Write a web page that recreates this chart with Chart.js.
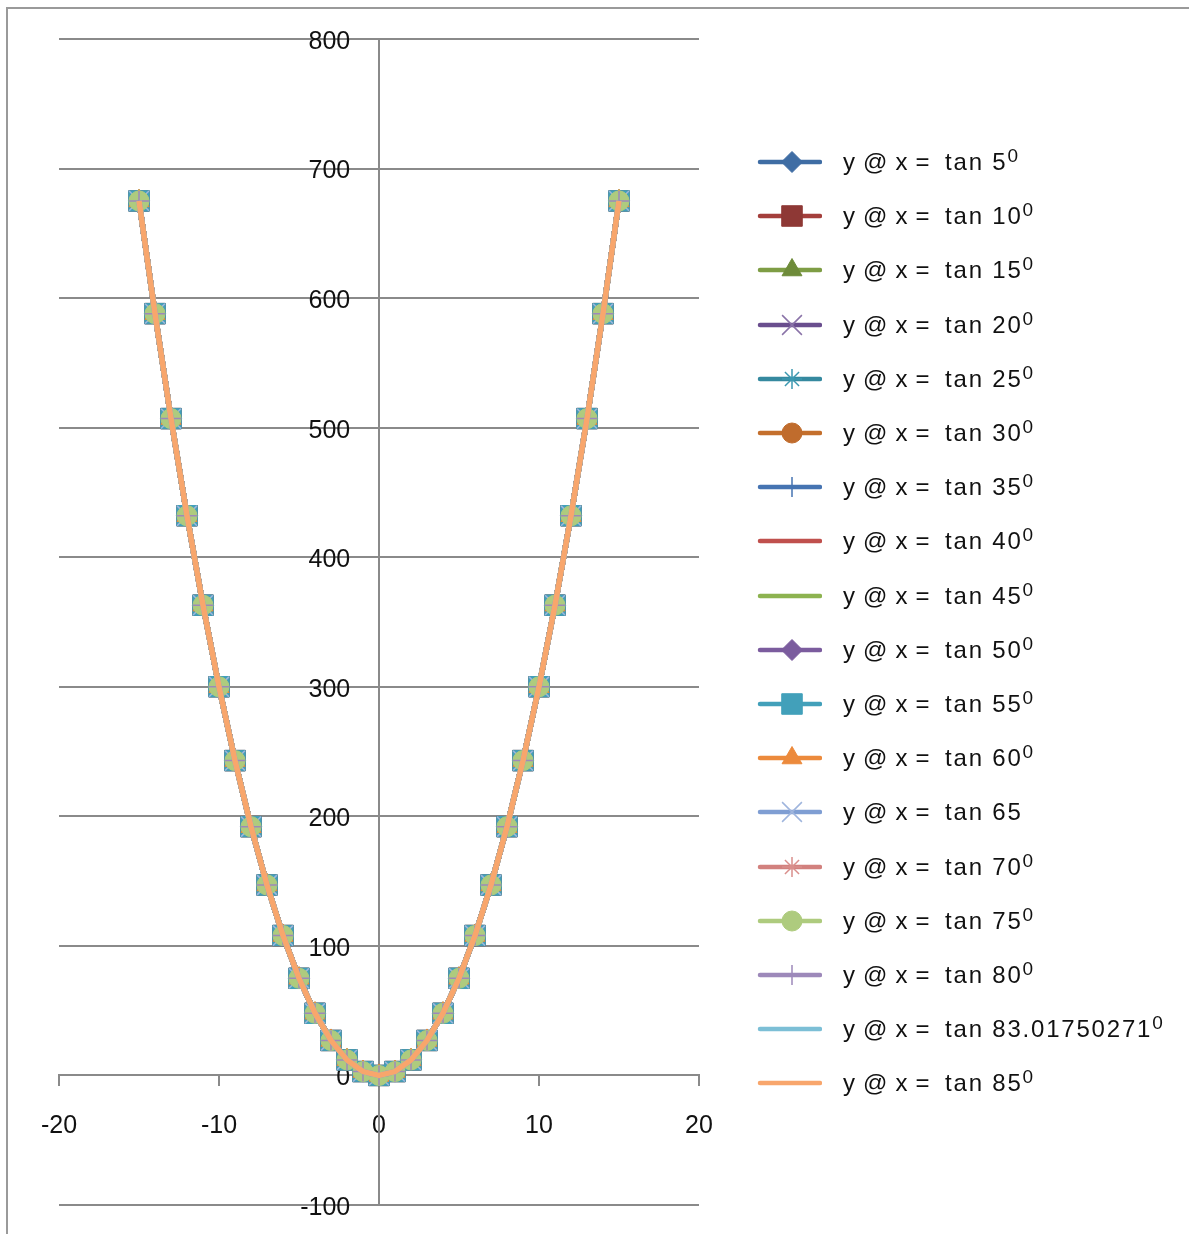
<!DOCTYPE html>
<html>
<head>
<meta charset="utf-8">
<script src="https://cdn.jsdelivr.net/npm/chart.js@4.4.1/dist/chart.umd.min.js"></script>
<style>
html, body { margin: 0; padding: 0; background: #fff; }
body { width: 1189px; height: 1234px; position: relative; overflow: hidden; font-family: "Liberation Sans", Arial, sans-serif; }
#frame { position: absolute; left: 6px; top: 7px; width: 1300px; height: 1300px; border-left: 2px solid #9a9a9a; border-top: 2px solid #9a9a9a; }
#chart { position: absolute; left: 0; top: 0; }
#legend { position: absolute; left: 756px; top: 135px; }
.item { height: 54.2px; display: flex; align-items: center; white-space: pre; color: #111; font-size: 24px; }
.item canvas { margin-right: 21px; }
.lhs { letter-spacing: 0.7px; }
.rhs { letter-spacing: 1.8px; }
.deg { font-size: 19px; vertical-align: 8px; line-height: 0; letter-spacing: 0; }
</style>
</head>
<body>
<div id="frame"></div>
<canvas id="chart" width="1189" height="1234"></canvas>
<div id="legend"></div>
<script>
// === DATA ===
const xValues = [-15, -14, -13, -12, -11, -10, -9, -8, -7, -6, -5, -4, -3, -2, -1, 0,
                 1, 2, 3, 4, 5, 6, 7, 8, 9, 10, 11, 12, 13, 14, 15];
const yValues = [675, 588, 507, 432, 363, 300, 243, 192, 147, 108, 75, 48, 27, 12, 3, 0,
                 3, 12, 27, 48, 75, 108, 147, 192, 243, 300, 363, 432, 507, 588, 675];
const angleLabels = ["tan 5", "tan 10", "tan 15", "tan 20", "tan 25", "tan 30", "tan 35", "tan 40", "tan 45",
                     "tan 50", "tan 55", "tan 60", "tan 65", "tan 70", "tan 75", "tan 80", "tan 83.01750271", "tan 85"];
const degreeMark = [1, 1, 1, 1, 1, 1, 1, 1, 1, 1, 1, 1, 0, 1, 1, 1, 1, 1];
const xTicks = [-20, -10, 0, 10, 20];
const yTicks = [-100, 0, 100, 200, 300, 400, 500, 600, 700, 800];

// === STYLES ===
const lineColors = ["#3F6DA4", "#A43F3C", "#7E9D45", "#6A4E8E", "#35899F", "#C46F2C",
                    "#4674B2", "#C0504D", "#8DB350", "#7B5C9E", "#42A0BA", "#EC8A3C",
                    "#7F9ED3", "#D2817E", "#AECB7E", "#9D89BA", "#7CBFD6", "#F8A66C"];
const markerColors = ["#3F6DA4", "#8E3835", "#6E8B3A", "#8A73A8", "#3C98B0", "#C06C2D",
                      "#4674B2", "#C0504D", "#8DB350", "#7B5C9E", "#42A0BA", "#EC8A3C",
                      "#9FB5DD", "#D98F8C", "#AECB7E", "#9D89BA", "#7CBFD6", "#F8A66C"];
const markerStyles = ["rectRot", "rect", "triangle", "crossRot", "star", "circle", "cross", null, null,
                      "rectRot", "rect", "triangle", "crossRot", "star", "circle", "cross", null, null];
const markerRadius = { rectRot: 10.5, rect: 14.5, triangle: 11.5, crossRot: 14, star: 10, circle: 10, cross: 10 };
const strokeOnly = { crossRot: 1, star: 1, cross: 1 };
const gridGray = "#8a8a8a";
const tickFont = { family: "Liberation Sans", size: 25 };

// === CHART ===
const datasets = angleLabels.map((lab, i) => {
    const st = markerStyles[i];
    return {
        label: "y @ x = " + lab,
        data: xValues.map((x, k) => ({ x: x, y: yValues[k] })),
        showLine: true,
        tension: 0,
        borderColor: lineColors[i],
        borderWidth: 5.5,
        pointStyle: st || "circle",
        pointRadius: st ? markerRadius[st] : 0,
        pointHoverRadius: st ? markerRadius[st] : 0,
        pointBackgroundColor: markerColors[i],
        pointBorderColor: markerColors[i],
        pointBorderWidth: st && strokeOnly[st] ? 1.5 : 1,
        order: angleLabels.length - i
    };
});

const setTicks = list => scale => { scale.ticks = list.map(v => ({ value: v })); };

new Chart(document.getElementById("chart").getContext("2d"), {
    type: "scatter",
    data: { datasets: datasets },
    options: {
        responsive: false,
        animation: false,
        devicePixelRatio: 1,
        layout: { padding: { left: 59, top: 39, right: 490, bottom: 29 } },
        plugins: { legend: { display: false }, tooltip: { enabled: false } },
        scales: {
            x: {
                type: "linear", min: -20, max: 20, position: { y: 0 },
                afterBuildTicks: setTicks(xTicks),
                grid: { drawOnChartArea: false, drawTicks: true, tickLength: 10, tickColor: gridGray, lineWidth: 2 },
                border: { display: true, color: gridGray, width: 2 },
                ticks: { padding: 26, color: "#111", font: tickFont, maxRotation: 0, autoSkip: false }
            },
            y: {
                type: "linear", min: -100, max: 800, position: { x: 0 },
                afterBuildTicks: setTicks(yTicks),
                grid: { color: gridGray, lineWidth: 2, drawTicks: false },
                border: { display: true, color: gridGray, width: 2 },
                ticks: { display: false }
            },
            yl: {
                axis: "y", type: "linear", min: -100, max: 800, position: { x: -1.8 },
                afterBuildTicks: setTicks(yTicks),
                grid: { display: false, drawTicks: false },
                border: { display: false },
                ticks: { padding: 0, labelOffset: 3, color: "#111", font: tickFont, autoSkip: false }
            }
        }
    }
});

// === LEGEND ===
function drawSample(cv, i) {
    const c = cv.getContext("2d");
    c.strokeStyle = lineColors[i];
    c.lineWidth = 4.5;
    c.lineCap = "round";
    c.beginPath();
    c.moveTo(4, 15);
    c.lineTo(64, 15);
    c.stroke();
    const st = markerStyles[i];
    if (st && Chart.helpers && Chart.helpers.drawPoint) {
        c.lineCap = "butt";
        c.fillStyle = markerColors[i];
        c.strokeStyle = markerColors[i];
        const bw = strokeOnly[st] ? 1.5 : 1;
        c.lineWidth = bw;
        Chart.helpers.drawPoint(c, { pointStyle: st, radius: markerRadius[st], rotation: 0, borderWidth: bw }, 36, 15);
    }
}

const legend = document.getElementById("legend");
angleLabels.forEach((lab, i) => {
    const row = document.createElement("div");
    row.className = "item";
    const cv = document.createElement("canvas");
    cv.width = 66;
    cv.height = 30;
    row.appendChild(cv);
    const text = document.createElement("span");
    const lhs = document.createElement("span");
    lhs.className = "lhs";
    lhs.textContent = "y @ x =  ";
    text.appendChild(lhs);
    const rhs = document.createElement("span");
    rhs.className = "rhs";
    rhs.textContent = lab;
    text.appendChild(rhs);
    if (degreeMark[i]) {
        const sup = document.createElement("span");
        sup.className = "deg";
        sup.textContent = "0";
        text.appendChild(sup);
    }
    row.appendChild(text);
    legend.appendChild(row);
    drawSample(cv, i);
});
</script>
</body>
</html>
